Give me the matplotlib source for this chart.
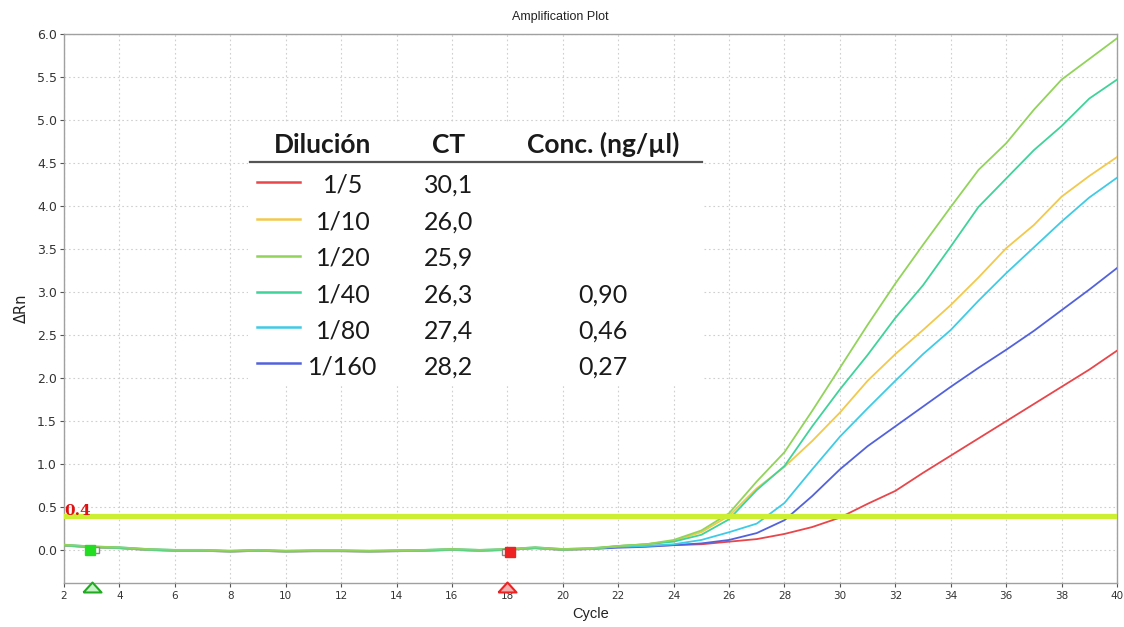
import matplotlib
matplotlib.use("Agg")
import matplotlib.pyplot as plt
from matplotlib.lines import Line2D

# ---------------- data ----------------
cycles = list(range(2, 41))

baseline = [0.06, 0.04, 0.03, 0.01, 0.00, 0.00, -0.01, 0.00, -0.01, -0.005, -0.005, -0.01,
            -0.005, 0.00, 0.01, 0.00, 0.01, 0.03, 0.01, 0.02, 0.02]  # cycles 2..22

r_5 =   [0.04, 0.05, 0.06, 0.07, 0.10, 0.13, 0.19, 0.27, 0.38, 0.54, 0.69, 0.90, 1.10,
         1.30, 1.50, 1.70, 1.90, 2.10, 2.32]          # cycles 22..40
r_10 =  [0.05, 0.07, 0.11, 0.21, 0.40, 0.72, 0.97, 1.27, 1.60, 1.97, 2.28, 2.56, 2.85,
         3.17, 3.51, 3.78, 4.11, 4.35, 4.57]
r_20 =  [0.05, 0.07, 0.12, 0.23, 0.43, 0.80, 1.14, 1.62, 2.12, 2.62, 3.10, 3.55, 3.99,
         4.42, 4.73, 5.12, 5.47, 5.71, 5.95]
r_40 =  [0.05, 0.07, 0.10, 0.18, 0.36, 0.70, 0.98, 1.44, 1.87, 2.27, 2.70, 3.08, 3.53,
         3.99, 4.32, 4.65, 4.93, 5.25, 5.47]
r_80 =  [0.04, 0.05, 0.07, 0.12, 0.21, 0.31, 0.55, 0.94, 1.32, 1.65, 1.97, 2.28, 2.56,
         2.90, 3.22, 3.52, 3.82, 4.10, 4.33]
r_160 = [0.03, 0.04, 0.06, 0.08, 0.12, 0.20, 0.35, 0.63, 0.94, 1.21, 1.44, 1.67, 1.90,
         2.12, 2.33, 2.55, 2.79, 3.03, 3.28]

dilutions = ["1/5", "1/10", "1/20", "1/40", "1/80", "1/160"]
ct_values = ["30,1", "26,0", "25,9", "26,3", "27,4", "28,2"]
conc_values = ["", "", "", "0,90", "0,46", "0,27"]
series = [r_5, r_10, r_20, r_40, r_80, r_160]
colors = ["#e8464a", "#f2c94c", "#92d35a", "#3fd39a", "#3fcbe6", "#5262dc"]

threshold = 0.4
baseline_start = 3
baseline_end = 18

# ---------------- figure ----------------
fig = plt.figure(figsize=(11.24, 6.27), dpi=100)
ax = fig.add_axes([0.0569, 0.0702, 0.9369, 0.8756])

xlim = (2, 40)
ylim = (-0.38, 6.0)
ax.set_xlim(*xlim)
ax.set_ylim(*ylim)

ax.set_xticks(range(2, 41, 2))
ax.set_yticks([i * 0.5 for i in range(0, 13)])
ax.set_yticklabels([f"{i*0.5:.1f}" for i in range(0, 13)])
ax.tick_params(axis="x", labelsize=7.5, colors="#555555", labelcolor="#333333", length=3, pad=3)
ax.tick_params(axis="y", labelsize=9, colors="#555555", labelcolor="#333333", length=3, pad=2)
for s in ax.spines.values():
    s.set_color("#a0a0a0")
    s.set_linewidth(1.0)
ax.grid(True, color="#cfcfcf", linestyle=(0, (1.5, 2.5)), linewidth=0.8)
ax.set_axisbelow(True)

# curves (draw bottom-most first)
order = [0, 5, 4, 1, 3, 2]
for k, i in enumerate(order):
    y = baseline[:-1] + series[i]
    offs = [0.0, -0.005, 0.005, -0.003, 0.004, -0.006][i]
    y = [v + (offs if c < 22 else 0) for c, v in zip(cycles, y)]
    ax.plot(cycles, y, color=colors[i], lw=1.3, zorder=3 + k)

# threshold
ax.axhline(threshold, color="#ccee33", lw=3.8, zorder=10)
ax.text(2.02, threshold + 0.015, "0.4", color="#e01010", fontsize=11, fontweight="bold",
        family="DejaVu Serif", ha="left", va="baseline", zorder=11)

# baseline markers
ax.plot([baseline_start + 0.15], [0.0], marker="s", ms=5, mfc="white", mec="#888888", mew=1, zorder=12)
ax.plot([baseline_start - 0.06], [0.0], marker="s", ms=7, color="#22dd22", zorder=13)
ax.plot([baseline_end - 0.1], [-0.02], marker="s", ms=5, mfc="white", mec="#888888", mew=1, zorder=12)
ax.plot([baseline_end + 0.1], [-0.02], marker="s", ms=7, color="#ee2222", zorder=13)
tri = [(-1, -0.55), (1, -0.55), (0, 0.55), (-1, -0.55)]
ax.plot([baseline_start], [ylim[0] - 0.05], marker=tri, ms=13, mfc="#c8f2c8", mec="#22aa22",
        mew=1.5, clip_on=False, zorder=14)
ax.plot([baseline_end], [ylim[0] - 0.05], marker=tri, ms=13, mfc="#f6b0b0", mec="#ee2222",
        mew=1.5, clip_on=False, zorder=14)

# labels
fig.text(560 / 1124, 1 - 17 / 627, "Amplification Plot", ha="center", va="center",
         fontsize=9, family="Liberation Sans", color="#222222")
ax.set_xlabel("Cycle", fontsize=10.5, family="Liberation Sans", color="#222222", labelpad=4)
ax.set_ylabel("ΔRn", fontsize=10.5, family="DejaVu Sans", color="#222222", labelpad=6)

# ---------------- table overlay ----------------
tf = "Lato"
ax.add_patch(plt.Rectangle((0.1747, 0.3607), 0.4321, 0.4753, transform=ax.transAxes,
                           facecolor="white", edgecolor="none", zorder=20))
hdr_y = 0.784
for xx, t in [(0.2455, "Dilución"), (0.3656, "CT"), (0.512, "Conc. (ng/µl)")]:
    ax.text(xx, hdr_y, t, transform=ax.transAxes, ha="center", va="baseline",
            fontsize=19, fontweight="bold", family=tf, color="#1a1a1a", zorder=21)
ax.add_line(Line2D([0.1766, 0.606], [0.767, 0.767], transform=ax.transAxes,
                   color="#555555", lw=1.6, zorder=21))

row_base = [0.7109, 0.6443, 0.5780, 0.5113, 0.4457, 0.3789]
row_line = [0.731, 0.663, 0.5956, 0.5306, 0.4658, 0.4002]
for i in range(len(dilutions)):
    ax.add_line(Line2D([0.1830, 0.2241], [row_line[i]] * 2, transform=ax.transAxes,
                       color=colors[i], lw=1.8, zorder=21))
    ax.text(0.265, row_base[i], dilutions[i], transform=ax.transAxes, ha="center",
            va="baseline", fontsize=18, family=tf, color="#1a1a1a", zorder=21)
    ax.text(0.3656, row_base[i], ct_values[i], transform=ax.transAxes, ha="center",
            va="baseline", fontsize=18, family=tf, color="#1a1a1a", zorder=21)
    if conc_values[i]:
        ax.text(0.512, row_base[i], conc_values[i], transform=ax.transAxes, ha="center",
                va="baseline", fontsize=18, family=tf, color="#1a1a1a", zorder=21)

fig.savefig("out.png", dpi=100, facecolor="white")
